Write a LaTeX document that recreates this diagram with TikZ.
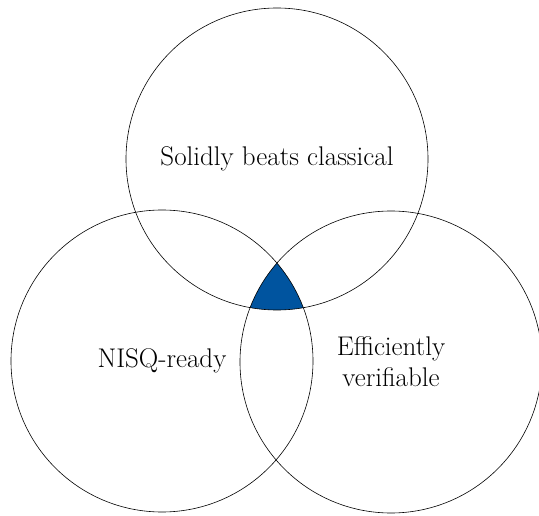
\documentclass[tikz,border=0pt]{standalone}
\definecolor{overlapblue}{RGB}{0,84,159}
\tikzset{
  setcircle/.style={draw, circle, minimum size=302pt, inner sep=0pt,
    line width=0.6pt, font=\fontsize{27}{31}\selectfont, align=center}
}
\begin{document}
\begin{tikzpicture}[x=1pt, y=-1pt]
    \useasboundingbox (0,0) rectangle (539,516);
    % Drawing the shared region of all three sets
    \begin{scope}
      \clip (277,159) circle [radius=151];
      \clip (162,361) circle [radius=151];
      \fill [overlapblue] (391,362) circle [radius=151];
    \end{scope}
    % Drawing the three sets
    \node [setcircle] (classical) at (277,159) {Solidly beats classical};
    \node [setcircle] (nisq) at (162,361) {NISQ-ready};
    \node [setcircle] (verifiable) at (391,362) {Efficiently\\verifiable};
  \end{tikzpicture}
\end{document}
